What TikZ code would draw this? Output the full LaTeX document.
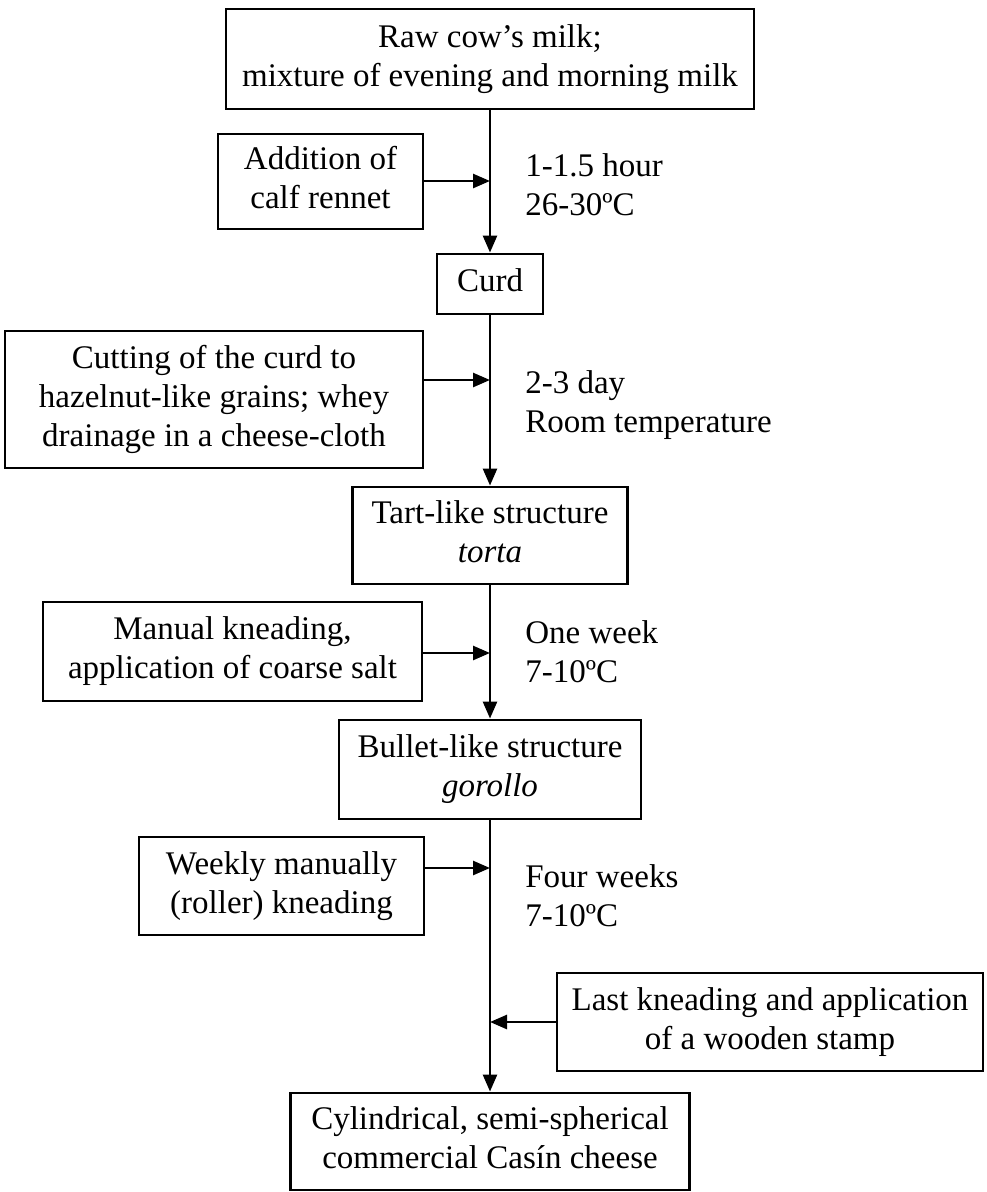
\documentclass[tikz,border=0pt]{standalone}
\usepackage{fontspec}
\setmainfont{Liberation Serif}
\usetikzlibrary{arrows.meta}

\begin{document}
\begin{tikzpicture}[x=1pt, y=-1pt, >={Triangle[length=17pt,width=14pt]}, line width=2.6pt,
	stage/.style={draw, line width=2.9pt, align=center, inner sep=3pt, font=\fontsize{33}{39}\selectfont},
	cond/.style={anchor=west, align=left, inner sep=0pt, font=\fontsize{33}{39}\selectfont}]

							\useasboundingbox (0,0) rectangle (987,1192);

							\node[stage, minimum width=528, minimum height=100] (milk) at (490,59) {\strut Raw cow’s milk;\\\strut mixture of evening and morning milk};
							\node[stage, minimum width=205, minimum height=95] (rennet) at (320.5,181.5) {\strut Addition of\\\strut calf rennet};
							\node[stage, minimum width=106, minimum height=60] (curd) at (490,284) {\strut Curd};
							\node[stage, minimum width=418, minimum height=137] (cutting) at (214,399.5) {\strut Cutting of the curd to\\\strut hazelnut-like grains; whey\\\strut drainage in a cheese-cloth};
							\node[stage, minimum width=275, minimum height=97] (tart) at (490,535.5) {\strut Tart-like structure\\\strut\textit{torta}};
							\node[stage, minimum width=379, minimum height=99] (manual) at (232.5,651.5) {\strut Manual kneading,\\\strut application of coarse salt};
							\node[stage, minimum width=302, minimum height=99] (bullet) at (490,769.5) {\strut Bullet-like structure\\\strut\textit{gorollo}};
							\node[stage, minimum width=285, minimum height=98] (weekly) at (281.5,886) {\strut Weekly manually\\\strut (roller) kneading};
							\node[stage, minimum width=426, minimum height=98] (stamp) at (770,1022) {\strut Last kneading and application\\\strut of a wooden stamp};
							\node[stage, minimum width=399, minimum height=97] (cheese) at (490,1141.5) {\strut Cylindrical, semi-spherical\\\strut commercial Casín cheese};

							\node[cond] (c1) at (524,188) {\strut 1-1.5 hour\\\strut 26-30ºC};
							\node[cond] (c2) at (524,405) {\strut 2-3 day\\\strut Room temperature};
							\node[cond] (c3) at (524,655) {\strut One week\\\strut 7-10ºC};
							\node[cond] (c4) at (524,899) {\strut Four weeks\\\strut 7-10ºC};

							\coordinate (j1) at (490,181);
							\coordinate (j2) at (490,380);
							\coordinate (j3) at (490,653);
							\coordinate (j4) at (490,868);
							\coordinate (j5) at (490,1022);

							\path[->]
							(milk) edge (curd)
							(curd) edge (tart)
							(tart) edge (bullet)
							(bullet) edge (cheese)
							(rennet.east |- j1) edge (j1)
							(cutting.east |- j2) edge (j2)
							(manual.east |- j3) edge (j3)
							(weekly.east |- j4) edge (j4)
							(stamp.west |- j5) edge (j5);

						\end{tikzpicture}
\end{document}
